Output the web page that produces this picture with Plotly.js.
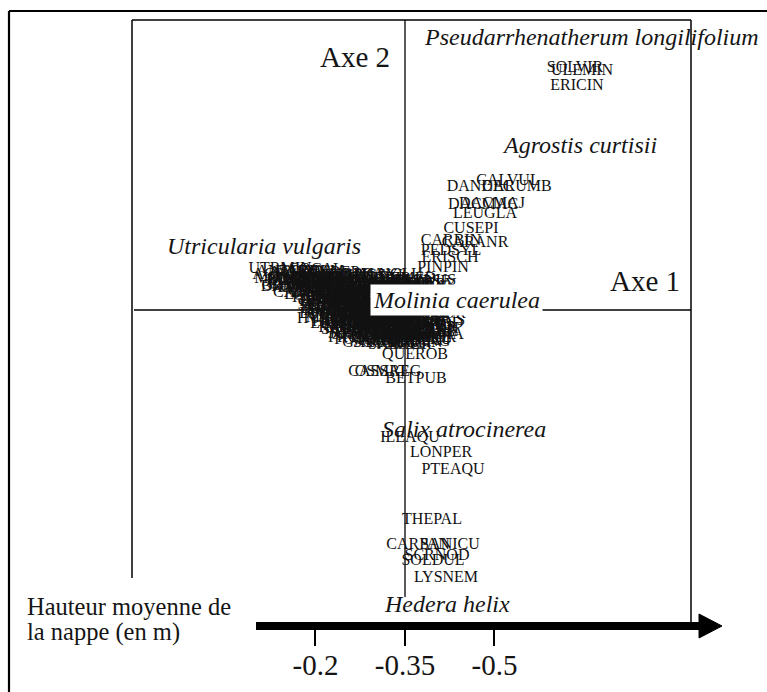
<!DOCTYPE html>
<html><head><meta charset="utf-8">
<script src="https://cdn.plot.ly/plotly-3.0.1.min.js"></script>
<style>html,body{margin:0;padding:0;background:#fff;}#chart{width:767px;height:692px;}</style>
</head><body><div id="chart"></div>
<script>
const W = 767, H = 692;

// Species codes and their ordination scores (Axe 1, Axe 2)
const speciesCodes = [
  'SOLVIR','ULEMIN','ERICIN',
  'DANDEC','CALVUL','CARUMB','DACMAC','DACMAJ','LEUGLA','CUSEPI','CARBIN','CARANR','PEDSYL','ERISCH','PINPIN',
  'UTRMIN','MENTRI','DROROT','DROINT','RHYALB','RHYFUS','SPHAGN','HYDVUL','ERITET','LYCINU','POTPAL','MENAQU',
  'IRIPSE','LYTSAL','JUNBUL','JUNACU','JUNEFF','CARLAS','CARNIG','CARVES','LYSVUL','GALPAL','SCUMIN','ANATEN',
  'HYPELO','HYDCOT','WAHHED','OENLAC','LOBURE','POTERE','JUNCON','GALULI','CIRDIS','SCHNIG','ERIANG','MYRGAL',
  'SUCPRA','CARPUL','CARROS','SALREP','POLVUL','EPIPAL','VIOPAL','HYPTET','CARECH','RANFLA','MOLCAE','SCUGAL',
  'JUNSQU','LOTULI','LYCEUR','PINLUS','SENAQU','EUPCAN',
  'ANTODO','CARDEM','CARHOS','CARPAI','DESFLE','DROANG','ELEMUL','EQUFLU','ERIPOL','GENPNE','GLYFLU','HYDCOM',
  'HYPCAL','ISOFLU','JUNBUF','JUNTEN','LEMMIN','LITUNI','LUDPAL','MENPUL','MYOSCO','NYMALB','PEUPAL','POTGRA',
  'POTPOL','RANOPH','SAGNOD','SALCIN','SCHPAL','SCIFLU','SPAEME','TRIPAL','VERSCU','VIOLAC',
  'AGRSTO','ALISPL','ANGSYL','BIDTRI','CALSEP','CARFLA','CARPSE','CARVIR','CICVIR','ELEPAL','EPIHIR','EQUPAL',
  'FILULM','HOLLAN','HYPPER','IRIFOE','JUNART','LOTPED','LYCSEL','MENARV','MYOPAL','OENCRO','PHRAUS','POAPAL',
  'POTANS','POTERC','PULDYS','RANREP','RUMCON','SAMVAL','SCRAUR','STAPAL','TEUSCO','TYPLAT','VALDIO','VERBEC',
  'ACHPTA','AJUREP','ALOGEN','ANENEM','BETVER','BRIMED','CALCUS','CAREPI','CARHIR','CARLEP','CENERY','CIRPAL',
  'CONMAJ','DACFUC','DACPRA','ELEACI','EPIPAR','EQUARV','EUPHEL','FESRUB','GALAPA','GALMOL','GENANG','GNAULI',
  'HYDPAL','HYPHUM','JUNCAP','JUNPYG','LAPCOM','LINCAT','LYCINN','LYTPOR','MENPIP','MOEMUS','NARBEL','OXAACE',
  'PEDPAL','PLAMAJ','POLSER','POTREP','PRUVUL','RADLIN','RANSCE','SCOAUT','SERTIN',
  'ACOCAL','AGRCAP','AIRPRA','ALNGLU','ANAARV','ARRELA','ASPHOD','BLENUS','BRAPIN','CALEPI','CARACU','CARCUR',
  'CARELA','CARLAE','CARPAL','CARSTE','CLAMAR','CORAVE','CRAMON','CREPAL','DIGPUR','ELYREP','EPITET','ERIVAG',
  'EUPATR','FRAALN','GALAPR','GLECHO','HELPAL','HOLMOL','HYDMOR','HYPRAD','JUNMAR','LATPRA','LEMTRI','LUZMUL',
  'LYCCLA','MONFON','MYRSPI','OREOPT','PARPAL','PINSYL','POLAMA','POTCRE','RUBFRU','SALAUR',
  'QUEROB','BETPUB','CASSAT','OSMREG',
  'ILEAQU','LONPER','PTEAQU','THEPAL','CARPAN','SANICU','SCRNOD','SOLDUL','LYSNEM'
];
const axe1Scores = [
  1.70, 1.77, 1.72,
  0.75, 1.03, 1.12, 0.78, 0.87, 0.80, 0.66, 0.46, 0.70, 0.46, 0.45, 0.38,
  -1.25, -1.20, -1.05, -0.75, -0.60, -0.40, -0.20, -0.05, -1.00, -0.85, -0.65, -0.45,
  -0.25, -0.05, -0.70, -0.67, -0.47, -0.27, -0.07, 0.13, -0.75, -0.55, -0.35, -0.15,
  0.05, -0.60, -0.40, -0.20, 0.00, 0.23, -0.45, -0.33, -0.15, 0.05, 0.15, 0.00,
  -0.10, -1.05, -0.80, -0.55, -0.30, -0.10, 0.10, -0.65, -0.45, -0.25, -0.05, 0.15,
  -0.25, -0.05, 0.20, 0.15, -0.75, 0.10,
  -1.15, -0.95, -1.05, -0.75, -0.45, -0.85, -0.55, -0.25, 0.05, -1.12, -0.75, -0.35,
  -0.10, -0.85, -0.55, -0.70, -0.40, -0.10, -0.55, -0.20, -0.65, -0.45, -0.10, 0.15,
  -0.50, -0.25, 0.25, -0.55, -0.35, -0.10, 0.10, -0.30, -0.05, -0.10,
  -0.85, -0.60, -0.30, -1.12, -0.70, -0.10, 0.15, -0.95, -0.60, -0.40, -0.05, -0.90,
  -0.65, -0.25, 0.05, -0.80, -0.45, -0.20, -0.60, -0.30, 0.05, -0.65, -0.35, -0.05,
  -0.45, -0.15, 0.10, -0.55, -0.40, -0.05, 0.20, -0.45, -0.20, 0.10, -0.25, 0.05,
  -1.05, -0.75, -0.90, -0.60, -0.25, 0.00, -1.05, -0.70, -0.40, -0.10, 0.20, -0.90,
  -0.55, -0.20, 0.10, -0.75, -0.40, -0.10, -0.60, 0.15, -0.65, -0.50, -0.15, 0.20,
  -0.70, -0.35, 0.00, -0.55, -0.20, 0.15, -0.55, -0.35, -0.05, 0.25, -0.50, -0.15,
  0.15, -0.40, -0.10, 0.20, -0.45, -0.15, 0.15, -0.20, 0.10,
  -0.95, -1.20, -0.50, -0.15, -1.00, -0.80, -0.40, 0.20, -1.15, -0.80, -0.50, -0.20,
  0.10, -1.00, -0.70, -0.45, -0.05, 0.25, -0.70, -0.30, 0.00, -0.55, -0.25, 0.05,
  -0.75, -0.45, -0.10, 0.15, -0.50, -0.15, 0.25, -0.75, -0.30, 0.05, -0.65, -0.35,
  -0.05, -0.45, -0.20, 0.25, -0.35, -0.05, 0.25, -0.40, 0.15, -0.05,
  0.10, 0.11, -0.27, -0.17,
  0.05, 0.36, 0.48, 0.27, 0.13, 0.45, 0.32, 0.28, 0.41
];
const axe2Scores = [
  2.42, 2.39, 2.24,
  1.23, 1.29, 1.23, 1.05, 1.06, 0.96, 0.81, 0.69, 0.67, 0.59, 0.52, 0.42,
  0.41, 0.31, 0.30, 0.27, 0.23, 0.22, 0.21, 0.20, 0.22, 0.18, 0.15, 0.13,
  0.10, 0.10, 0.10, 0.05, 0.02, 0.00, -0.02, -0.03, -0.04, -0.06, -0.08, -0.10,
  -0.12, -0.12, -0.16, -0.18, -0.20, -0.22, -0.24, -0.33, -0.26, -0.28, -0.32, -0.06,
  -0.30, 0.26, 0.14, 0.10, 0.05, 0.04, 0.04, 0.00, -0.03, -0.12, -0.16, -0.16,
  -0.23, -0.24, -0.28, 0.16, 0.04, 0.22,
  0.38, 0.38, 0.32, 0.32, 0.32, 0.26, 0.26, 0.26, 0.26, 0.24, 0.18, 0.18,
  0.18, 0.12, 0.12, 0.06, 0.06, 0.06, -0.02, -0.02, -0.08, -0.08, -0.08, -0.08,
  -0.14, -0.14, -0.14, -0.20, -0.20, -0.20, -0.20, -0.28, -0.28, -0.34,
  0.34, 0.34, 0.34, 0.29, 0.28, 0.28, 0.28, 0.22, 0.22, 0.22, 0.22, 0.15,
  0.15, 0.15, 0.15, 0.08, 0.08, 0.08, 0.02, 0.02, 0.02, -0.05, -0.05, -0.05,
  -0.12, -0.12, -0.12, -0.18, -0.18, -0.18, -0.18, -0.25, -0.25, -0.25, -0.31, -0.31,
  0.37, 0.37, 0.31, 0.31, 0.31, 0.31, 0.25, 0.25, 0.25, 0.25, 0.25, 0.19,
  0.19, 0.19, 0.19, 0.13, 0.13, 0.13, 0.10, 0.10, 0.04, 0.04, 0.04, 0.04,
  -0.01, -0.01, -0.01, -0.07, -0.07, -0.07, -0.11, -0.11, -0.11, -0.11, -0.16, -0.16,
  -0.16, -0.22, -0.22, -0.22, -0.28, -0.28, -0.28, -0.33, -0.33,
  0.40, 0.35, 0.35, 0.35, 0.29, 0.29, 0.29, 0.29, 0.23, 0.23, 0.23, 0.23,
  0.23, 0.17, 0.17, 0.17, 0.17, 0.17, 0.11, 0.11, 0.11, 0.07, 0.07, 0.07,
  0.01, 0.01, 0.01, 0.01, -0.04, -0.04, -0.04, -0.09, -0.09, -0.09, -0.14, -0.14,
  -0.14, -0.19, -0.19, -0.19, -0.25, -0.25, -0.25, -0.30, -0.30, -0.35,
  -0.45, -0.69, -0.62, -0.62,
  -1.28, -1.43, -1.60, -2.10, -2.35, -2.35, -2.46, -2.51, -2.68
];

// Named taxa (italic) and their positions in the ordination plane
const taxaNames = ['Pseudarrhenatherum longilifolium','Agrostis curtisii','Utricularia vulgaris',
                   'Molinia caerulea','Salix atrocinerea','Hedera helix'];
const taxaAxe1 = [1.86, 1.74, -1.41, 0.51, 0.59, 0.42];
const taxaAxe2 = [2.73, 1.65, 0.64, 0.10, -1.19, -2.94];

// Water-table depth gradient (m)
const depthTicks = [-0.2, -0.35, -0.5];
const depthLabels = ['-0.2', '-0.35', '-0.5'];

const px = x => x / W;
const py = y => 1 - y / H;
const serif = 'Liberation Serif, Times New Roman, serif';
const ink = '#151515';

const traces = [
  {
    type: 'scatter', mode: 'text', x: axe1Scores, y: axe2Scores, text: speciesCodes,
    textposition: 'middle center', cliponaxis: false,
    textfont: {family: serif, size: 16, color: '#111'},
    hoverinfo: 'text', showlegend: false
  },
  {
    type: 'scatter', mode: 'markers', x: depthTicks, y: depthTicks.map(() => null),
    xaxis: 'x2', yaxis: 'y', hoverinfo: 'skip', showlegend: false
  }
];

function seg(x0, y0, x1, y1, w) {
  return {type: 'line', xref: 'paper', yref: 'paper', x0: px(x0), y0: py(y0), x1: px(x1), y1: py(y1),
          line: {color: '#000', width: w}, layer: 'below'};
}

const shapes = [
  seg(9, 11, 767, 11, 2.2),
  seg(9, 11, 9, 692, 2.2),
  seg(132, 20, 691, 20, 1.5),
  seg(132, 20, 132, 578, 1.5),
  seg(691, 20, 691, 626, 1.5),
  // ordination axes through the origin
  {type: 'line', xref: 'paper', yref: 'y', x0: px(134), x1: px(691), y0: 0, y1: 0,
   line: {color: '#000', width: 1.3}, layer: 'below'},
  {type: 'line', xref: 'x', yref: 'paper', x0: 0, x1: 0, y0: py(20), y1: py(597),
   line: {color: '#000', width: 1.3}, layer: 'below'},
  // gradient arrow
  {type: 'line', xref: 'paper', yref: 'paper', x0: px(256), x1: px(702), y0: py(626), y1: py(626),
   line: {color: '#000', width: 8}},
  {type: 'path', xref: 'paper', yref: 'paper',
   path: `M ${px(699)} ${py(614)} L ${px(722)} ${py(626)} L ${px(699)} ${py(638)} Z`,
   fillcolor: '#000', line: {color: '#000', width: 1}}
];

const annotations = taxaNames.map((t, i) => ({
  xref: 'x', yref: 'y', x: taxaAxe1[i], y: taxaAxe2[i], text: '<i>' + t + '</i>',
  xanchor: 'center', yanchor: 'middle',
  showarrow: false, font: {family: serif, size: 24, color: ink},
  bgcolor: t === 'Molinia caerulea' ? '#fff' : 'rgba(0,0,0,0)', borderpad: 2
}));
annotations.push(
  {xref: 'paper', yref: 'paper', x: px(355), y: py(57), xanchor: 'center', yanchor: 'middle',
   text: 'Axe 2', showarrow: false, font: {family: serif, size: 29, color: ink}},
  {xref: 'paper', yref: 'paper', x: px(645), y: py(281), xanchor: 'center', yanchor: 'middle',
   text: 'Axe 1', showarrow: false, font: {family: serif, size: 29, color: ink}},
  {xref: 'paper', yref: 'paper', x: px(25), y: py(606), xanchor: 'left', yanchor: 'middle',
   text: 'Hauteur moyenne de', showarrow: false, font: {family: serif, size: 24.5, color: ink}},
  {xref: 'paper', yref: 'paper', x: px(25), y: py(632), xanchor: 'left', yanchor: 'middle',
   text: 'la nappe (en m)', showarrow: false, font: {family: serif, size: 24.5, color: ink}}
);

const layout = {
  width: W, height: H, margin: {l: 0, r: 0, t: 0, b: 0},
  font: {family: serif, color: ink},
  paper_bgcolor: '#fff', plot_bgcolor: '#fff', showlegend: false,
  xaxis: {range: [-4.05, 3.62], visible: false, fixedrange: true},
  yaxis: {range: [-3.82, 3.10], visible: false, fixedrange: true},
  xaxis2: {
    overlaying: 'x', anchor: 'free', position: py(626), side: 'bottom',
    range: [0.3287, -0.9567],
    tickvals: depthTicks, ticktext: depthLabels,
    ticks: 'outside', ticklen: 19, tickwidth: 2, tickcolor: '#000',
    showline: false, showgrid: false, zeroline: false,
    ticklabelstandoff: -6,
    tickfont: {family: serif, size: 29, color: ink}
  },
  shapes: shapes, annotations: annotations
};

Plotly.newPlot('chart', traces, layout, {staticPlot: true, displayModeBar: false});
</script></body></html>
